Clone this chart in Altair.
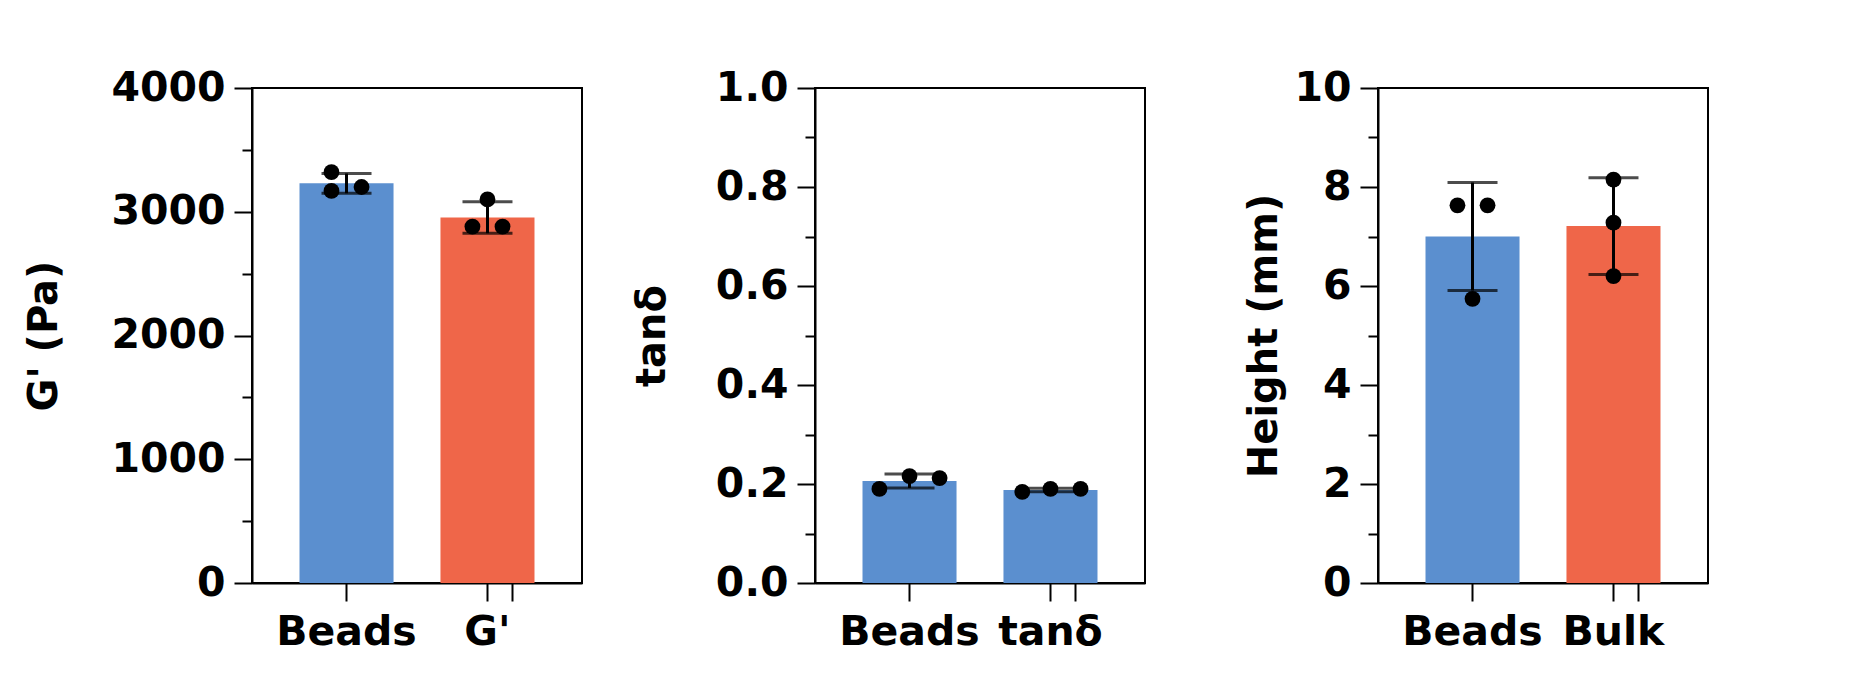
import altair as alt
import pandas as pd

FONT = "DejaVu Sans"
BLUE = "#5B8FCF"
ORANGE = "#EF6649"

# ---- data ----
p1_groups = ["Beads", "G'"]
p1_beads = [3320, 3168, 3200]
p1_other = [3100, 2880, 2880]
p1_jit_beads = [-0.16, -0.16, 0.16]
p1_jit_other = [0.0, -0.16, 0.16]

p2_groups = ["Beads", "tanδ"]
p2_beads = [0.190, 0.216, 0.212]
p2_other = [0.184, 0.190, 0.190]
p2_jit_beads = [-0.32, 0.0, 0.32]
p2_jit_other = [-0.30, 0.0, 0.32]

p3_groups = ["Beads", "Bulk"]
p3_beads = [7.63, 7.63, 5.74]
p3_other = [8.15, 7.28, 6.20]
p3_jit_beads = [-0.16, 0.16, 0.0]
p3_jit_other = [0.0, 0.0, 0.0]

W, H = 330, 495
PI, PO = 0.333, 0.337
TOTAL = 2 - PI + 2 * PO
C0 = PO + (1 - PI) / 2
EXTRA_TICK = C0 + 1 + 0.175   # small stray tick right of the second category


def frame(groups, beads, other, jb, jo):
    rows = []
    for v, j in zip(beads, jb):
        rows.append({"group": groups[0], "value": v, "jitter": j, "k": 0})
    for v, j in zip(other, jo):
        rows.append({"group": groups[1], "value": v, "jitter": j, "k": 1})
    return pd.DataFrame(rows)


def panel(df, groups, ytitle, ymax, step, major_test, label_expr, title_x):
    n = int(round(ymax / step))
    vals = [round(i * step, 6) for i in range(n + 1)]
    xscale = alt.Scale(paddingInner=PI, paddingOuter=PO)
    xaxis = alt.Axis(
        title=None, labelAngle=0, labelFont=FONT, labelFontSize=41,
        labelFontWeight="bold", labelColor="black", labelPadding=11,
        tickSize=18, tickWidth=2, tickColor="black",
        domainColor="black", domainWidth=2,
    )
    yaxis = alt.Axis(
        values=vals,
        labelExpr=label_expr,
        tickSize={"condition": {"test": major_test, "value": 18}, "value": 10},
        tickWidth=2, tickColor="black", domainColor="black", domainWidth=2,
        grid=False, labelFont=FONT, labelFontSize=41, labelFontWeight="bold",
        labelColor="black", labelPadding=9,
        title=ytitle, titleFont=FONT, titleFontSize=40, titleFontWeight="bold",
        titleColor="black", titleX=title_x,
    )
    yscale = alt.Scale(domain=[0, ymax], nice=False, zero=True)
    yenc = alt.Y("value:Q", scale=yscale, axis=yaxis, title=ytitle)

    bars = alt.Chart(df).mark_bar().encode(
        x=alt.X("group:N", sort=groups, scale=xscale, axis=xaxis),
        y=alt.Y("mean(value):Q", scale=yscale, axis=yaxis, title=ytitle),
        color=alt.Color("group:N", sort=groups,
                        scale=alt.Scale(domain=groups, range=[BLUE, ORANGE]),
                        legend=None),
    )
    err = alt.Chart(df).mark_errorbar(
        extent="stdev", ticks=True, size=50, thickness=3, color="black"
    ).encode(x=alt.X("group:N", sort=groups, scale=xscale, axis=None), y=yenc)
    pts = alt.Chart(df).transform_calculate(
        px=f"datum.k + {C0} + datum.jitter * {1 - PI}"
    ).mark_circle(size=250, color="black", opacity=1).encode(
        x=alt.X("px:Q", scale=alt.Scale(domain=[0, TOTAL], nice=False, zero=False),
                axis=alt.Axis(orient="bottom", values=[EXTRA_TICK], labels=False,
                              domain=False, grid=False, title=None, tickSize=18,
                              tickWidth=2, tickColor="black", offset=0)),
        y=yenc,
    )
    return (
        alt.layer(bars, err, pts)
        .resolve_scale(x="independent")
        .properties(width=W, height=H,
                    view=alt.ViewConfig(stroke="black", strokeWidth=2, strokeOpacity=1))
    )


c1 = panel(frame(p1_groups, p1_beads, p1_other, p1_jit_beads, p1_jit_other),
           p1_groups, "G' (Pa)", 4000, 500,
           "datum.value % 1000 === 0",
           "datum.value % 1000 === 0 ? format(datum.value, 'd') : ''", -188)
c2 = panel(frame(p2_groups, p2_beads, p2_other, p2_jit_beads, p2_jit_other),
           p2_groups, "tanδ", 1.0, 0.1,
           "round(datum.value * 10) % 2 === 0",
           "round(datum.value * 10) % 2 === 0 ? format(datum.value, '.1f') : ''", -143)
c3 = panel(frame(p3_groups, p3_beads, p3_other, p3_jit_beads, p3_jit_other),
           p3_groups, "Height (mm)", 10, 1,
           "round(datum.value) % 2 === 0",
           "round(datum.value) % 2 === 0 ? format(datum.value, 'd') : ''", -94)

chart = alt.hconcat(c1, c2, c3, spacing=233, bounds="flush").properties(
    padding={"left": 14, "top": 58, "right": 5, "bottom": 5}
).configure_view(stroke="black", strokeWidth=2, strokeOpacity=1).configure(background="white")

chart.save("out.html", embed_options={"renderer": "svg", "actions": False})
